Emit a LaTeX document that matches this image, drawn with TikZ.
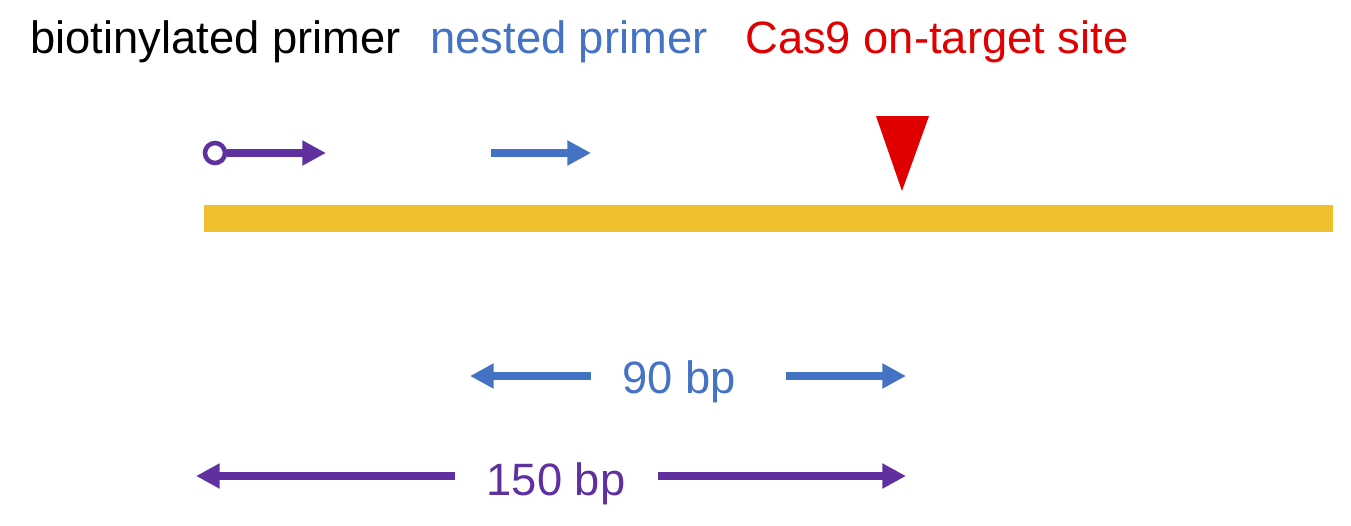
\documentclass[tikz,border=0pt]{standalone}
\usepackage{fontspec}
\setmainfont{Liberation Sans}
\usetikzlibrary{arrows.meta, positioning}
\definecolor{primerpurple}{HTML}{6030A0}
\definecolor{nestedblue}{HTML}{4472C4}
\definecolor{cutred}{HTML}{E00000}
\definecolor{dnayellow}{HTML}{EFBF2E}

\begin{document}
\begin{tikzpicture}[
    x=0.02cm, y=-0.02cm,
    heading/.style={
        font=\fontsize{25.8}{31}\selectfont,
        inner sep=0pt,
        anchor=base west
    },
    bplabel/.style={
        font=\fontsize{25.8}{31}\selectfont,
        inner sep=0pt,
        anchor=base
    },
    arrow/.style={
        -{Triangle[length=13.5pt,width=13.5pt]},
        line width=4.6pt
    }
]
\useasboundingbox (0,0) rectangle (1351,525);

% Legend
\node[heading] (biolegend) at (30, 53) {biotinylated primer};
\node[heading, color=nestedblue] (nestlegend) at (430, 53) {nested primer};
\node[heading, color=cutred] (caslegend) at (745, 53) {Cas9 on-target site};

% DNA template
\fill[dnayellow] (204, 205) rectangle (1333, 232);

% Cas9 cut site
\coordinate (cut) at (902, 191);
\fill[cutred] (876, 116) -- (929, 116) -- (cut) -- cycle;

% Primers
\node[circle, draw=primerpurple, line width=2.6pt, fill=white,
      minimum size=0.4cm, inner sep=0pt] (biotin) at (215, 153) {};
\coordinate (bioend) at (326, 153);
\draw[arrow, color=primerpurple] (biotin) -- (bioend);

\coordinate (neststart) at (491, 153);
\coordinate (nestend) at (591, 153);
\draw[arrow, color=nestedblue] (neststart) -- (nestend);

% Amplicon lengths
\node[bplabel, color=nestedblue] (short) at (679, 393) {90 bp};
\coordinate (shortL) at (591, 376);
\coordinate (shortLtip) at (470, 376);
\coordinate (shortR) at (786, 376);
\coordinate (shortRtip) at (906, 376);
\draw[arrow, color=nestedblue, line width=4pt] (shortL) -- (shortLtip);
\draw[arrow, color=nestedblue, line width=4pt] (shortR) -- (shortRtip);

\node[bplabel, color=primerpurple] (long) at (556, 495) {150 bp};
\coordinate (longL) at (455, 476);
\coordinate (longLtip) at (196, 476);
\coordinate (longR) at (658, 476);
\coordinate (longRtip) at (906, 476);
\draw[arrow, color=primerpurple, line width=4pt] (longL) -- (longLtip);
\draw[arrow, color=primerpurple, line width=4pt] (longR) -- (longRtip);

\end{tikzpicture}
\end{document}
